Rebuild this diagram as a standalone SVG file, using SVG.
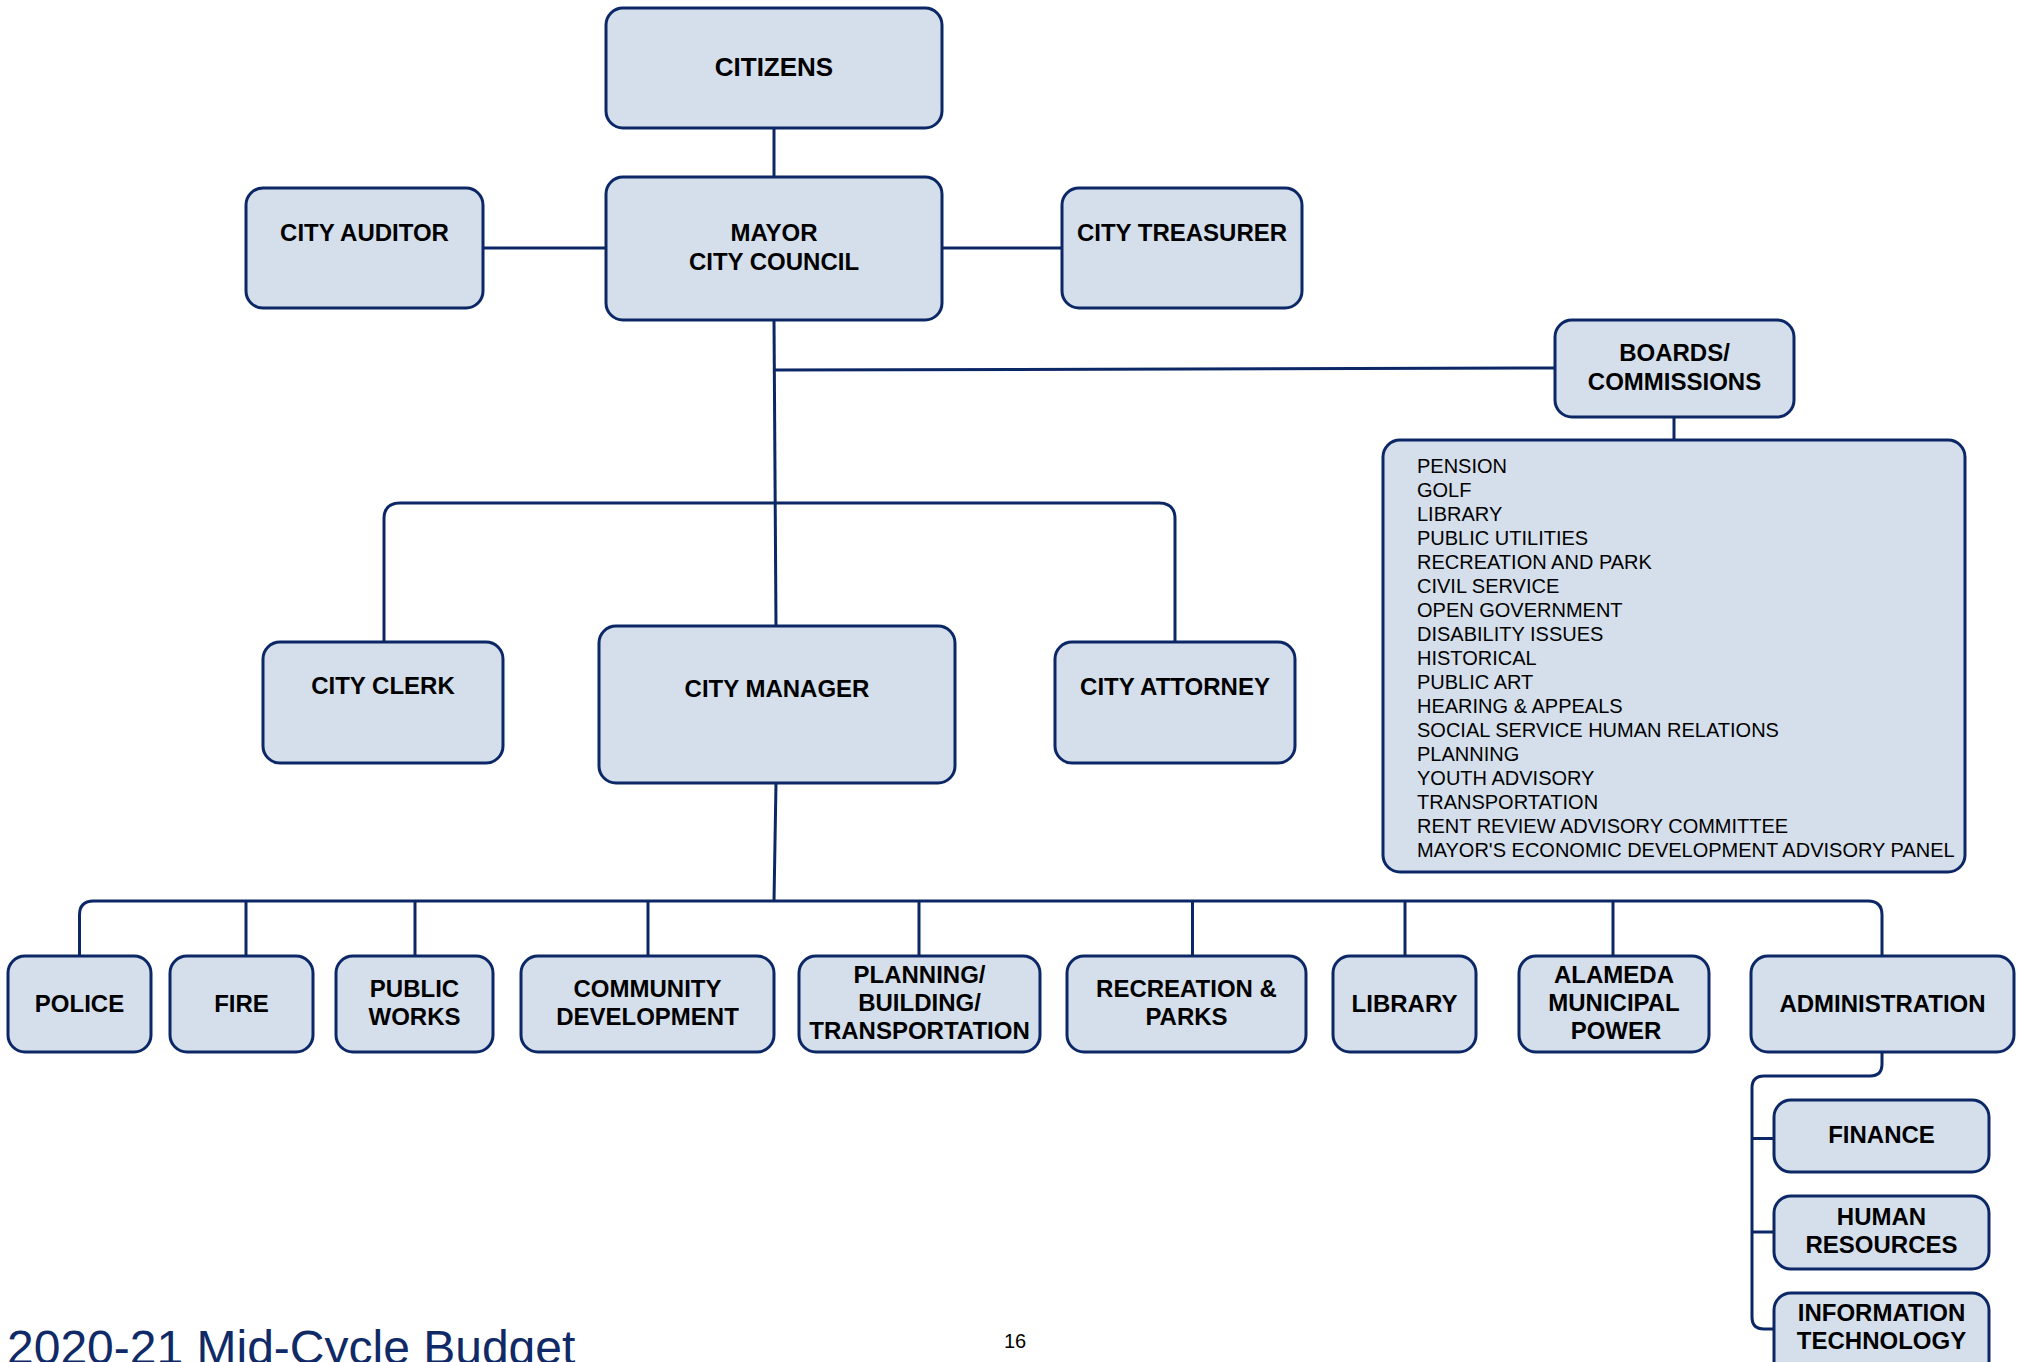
<svg xmlns="http://www.w3.org/2000/svg" width="2023" height="1362" viewBox="0 0 2023 1362">
  <style>
    .box { fill: #d4dfeb; stroke: #0c2766; stroke-width: 3; }
    .wire { fill: none; stroke: #0c2766; stroke-width: 3; }
    .lbl { font-family: "Liberation Sans", Arial, sans-serif; font-weight: bold; font-size: 24px; fill: #000; text-anchor: middle; }
    .big { font-size: 26px; }
    .list { font-family: "Liberation Sans", Arial, sans-serif; font-size: 20px; fill: #000; }
    .footer { font-family: "Liberation Sans", Arial, sans-serif; font-size: 48px; fill: #0f2a66; }
    .page { font-family: "Liberation Sans", Arial, sans-serif; font-size: 20px; fill: #000; }
  </style>

  <!-- connectors -->
  <g id="connectors">
    <path class="wire" d="M774 128 V177"/>
    <path class="wire" d="M483 248 H606"/>
    <path class="wire" d="M942 248 H1062"/>
    <path class="wire" d="M774 320 L776 626"/>
    <path class="wire" d="M774 370 L1555 368"/>
    <path class="wire" d="M1674 417 V440"/>
    <path class="wire" d="M384 642 V519 Q384 503 400 503 H1159 Q1175 503 1175 519 V642"/>
    <path class="wire" d="M776 783 L774 901"/>
    <path class="wire" d="M79.5 956 V915 Q79.5 901 93.5 901 H1868 Q1882 901 1882 915 V956"/>
    <path class="wire" d="M246 901 V956"/>
    <path class="wire" d="M415 901 V956"/>
    <path class="wire" d="M648 901 V956"/>
    <path class="wire" d="M919 901 V956"/>
    <path class="wire" d="M1192.5 901 V956"/>
    <path d="M1192.5 957 V967" stroke="#7d90b8" stroke-width="2.5" fill="none"/>
    <path class="wire" d="M1405 901 V956"/>
    <path class="wire" d="M1613 901 V956"/>
    <path class="wire" d="M1882 1052 V1064 Q1882 1076 1870 1076 H1764 Q1752 1076 1752 1088 V1317 Q1752 1329 1764 1329 H1774"/>
    <path class="wire" d="M1752 1138.5 H1774"/>
    <path class="wire" d="M1752 1232 H1774"/>
  </g>

  <!-- top level -->
  <g id="citizens">
    <rect class="box" x="606" y="8" width="336" height="120" rx="17"/>
    <text class="lbl big" x="774" y="76">CITIZENS</text>
  </g>
  <g id="mayor-council">
    <rect class="box" x="606" y="177" width="336" height="143" rx="17"/>
    <text class="lbl" x="774" y="241">MAYOR</text>
    <text class="lbl" x="774" y="270">CITY COUNCIL</text>
  </g>
  <g id="city-auditor">
    <rect class="box" x="246" y="188" width="237" height="120" rx="17"/>
    <text class="lbl" x="364.5" y="241">CITY AUDITOR</text>
  </g>
  <g id="city-treasurer">
    <rect class="box" x="1062" y="188" width="240" height="120" rx="17"/>
    <text class="lbl" x="1182" y="241">CITY TREASURER</text>
  </g>

  <!-- boards and commissions -->
  <g id="boards-commissions">
    <rect class="box" x="1555" y="320" width="239" height="97" rx="17"/>
    <text class="lbl" x="1674.5" y="361">BOARDS/</text>
    <text class="lbl" x="1674.5" y="390">COMMISSIONS</text>
  </g>
  <g id="boards-list">
    <rect class="box" x="1383" y="440" width="582" height="432" rx="17"/>
    <text class="list" x="1417" y="473">PENSION</text>
    <text class="list" x="1417" y="497">GOLF</text>
    <text class="list" x="1417" y="521">LIBRARY</text>
    <text class="list" x="1417" y="545">PUBLIC UTILITIES</text>
    <text class="list" x="1417" y="569">RECREATION AND PARK</text>
    <text class="list" x="1417" y="593">CIVIL SERVICE</text>
    <text class="list" x="1417" y="617">OPEN GOVERNMENT</text>
    <text class="list" x="1417" y="641">DISABILITY ISSUES</text>
    <text class="list" x="1417" y="665">HISTORICAL</text>
    <text class="list" x="1417" y="689">PUBLIC ART</text>
    <text class="list" x="1417" y="713">HEARING &amp; APPEALS</text>
    <text class="list" x="1417" y="737">SOCIAL SERVICE HUMAN RELATIONS</text>
    <text class="list" x="1417" y="761">PLANNING</text>
    <text class="list" x="1417" y="785">YOUTH ADVISORY</text>
    <text class="list" x="1417" y="809">TRANSPORTATION</text>
    <text class="list" x="1417" y="833">RENT REVIEW ADVISORY COMMITTEE</text>
    <text class="list" x="1417" y="857">MAYOR'S ECONOMIC DEVELOPMENT ADVISORY PANEL</text>
  </g>

  <!-- appointed officers -->
  <g id="city-clerk">
    <rect class="box" x="263" y="642" width="240" height="121" rx="17"/>
    <text class="lbl" x="383" y="694">CITY CLERK</text>
  </g>
  <g id="city-manager">
    <rect class="box" x="599" y="626" width="356" height="157" rx="17"/>
    <text class="lbl" x="777" y="697">CITY MANAGER</text>
  </g>
  <g id="city-attorney">
    <rect class="box" x="1055" y="642" width="240" height="121" rx="17"/>
    <text class="lbl" x="1175" y="695">CITY ATTORNEY</text>
  </g>

  <!-- departments -->
  <g id="police">
    <rect class="box" x="8" y="956" width="143" height="96" rx="17"/>
    <text class="lbl" x="79.5" y="1012">POLICE</text>
  </g>
  <g id="fire">
    <rect class="box" x="170" y="956" width="143" height="96" rx="17"/>
    <text class="lbl" x="241.5" y="1012">FIRE</text>
  </g>
  <g id="public-works">
    <rect class="box" x="336" y="956" width="157" height="96" rx="17"/>
    <text class="lbl" x="414.5" y="997">PUBLIC</text>
    <text class="lbl" x="414.5" y="1025">WORKS</text>
  </g>
  <g id="community-development">
    <rect class="box" x="521" y="956" width="253" height="96" rx="17"/>
    <text class="lbl" x="647.5" y="997">COMMUNITY</text>
    <text class="lbl" x="647.5" y="1025">DEVELOPMENT</text>
  </g>
  <g id="planning-building-transportation">
    <rect class="box" x="799" y="956" width="241" height="96" rx="17"/>
    <text class="lbl" x="919.5" y="983">PLANNING/</text>
    <text class="lbl" x="919.5" y="1011">BUILDING/</text>
    <text class="lbl" x="919.5" y="1039">TRANSPORTATION</text>
  </g>
  <g id="recreation-parks">
    <rect class="box" x="1067" y="956" width="239" height="96" rx="17"/>
    <text class="lbl" x="1186.5" y="997">RECREATION &amp;</text>
    <text class="lbl" x="1186.5" y="1025">PARKS</text>
  </g>
  <g id="library">
    <rect class="box" x="1333" y="956" width="143" height="96" rx="17"/>
    <text class="lbl" x="1404.5" y="1012">LIBRARY</text>
  </g>
  <g id="alameda-municipal-power">
    <rect class="box" x="1519" y="956" width="190" height="96" rx="17"/>
    <text class="lbl" x="1614" y="983">ALAMEDA</text>
    <text class="lbl" x="1614" y="1011">MUNICIPAL</text>
    <text class="lbl" x="1616" y="1039">POWER</text>
  </g>
  <g id="administration">
    <rect class="box" x="1751" y="956" width="263" height="96" rx="17"/>
    <text class="lbl" x="1882.5" y="1012">ADMINISTRATION</text>
  </g>

  <!-- administration divisions -->
  <g id="finance">
    <rect class="box" x="1774" y="1100" width="215" height="72" rx="17"/>
    <text class="lbl" x="1881.5" y="1143">FINANCE</text>
  </g>
  <g id="human-resources">
    <rect class="box" x="1774" y="1196" width="215" height="73" rx="17"/>
    <text class="lbl" x="1881.5" y="1225">HUMAN</text>
    <text class="lbl" x="1881.5" y="1253">RESOURCES</text>
  </g>
  <g id="information-technology">
    <rect class="box" x="1774" y="1293" width="215" height="90" rx="17"/>
    <text class="lbl" x="1881.5" y="1321">INFORMATION</text>
    <text class="lbl" x="1881.5" y="1349">TECHNOLOGY</text>
  </g>

  <!-- page footer -->
  <text class="footer" x="7" y="1364">2020-21 Mid-Cycle Budget</text>
  <text class="page" x="1004" y="1348">16</text>
</svg>
